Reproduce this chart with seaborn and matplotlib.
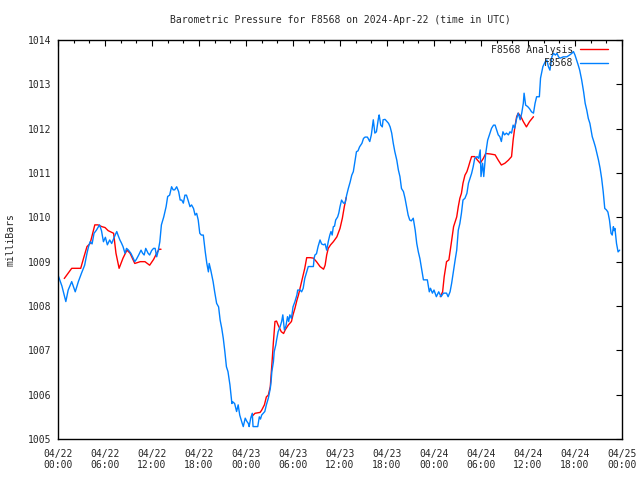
import matplotlib
matplotlib.use("Agg")
import matplotlib.pyplot as plt
from matplotlib.ticker import MultipleLocator
import seaborn as sns
import pandas as pd

title = "Barometric Pressure for F8568 on 2024-Apr-22 (time in UTC)"
ylabel = "milliBars"
tick_hours = [0, 6, 12, 18, 24, 30, 36, 42, 48, 54, 60, 66, 72]
tick_labels = ["04/22\n00:00", "04/22\n06:00", "04/22\n12:00", "04/22\n18:00",
               "04/23\n00:00", "04/23\n06:00", "04/23\n12:00", "04/23\n18:00",
               "04/24\n00:00", "04/24\n06:00", "04/24\n12:00", "04/24\n18:00",
               "04/25\n00:00"]
y_ticks = [1005, 1006, 1007, 1008, 1009, 1010, 1011, 1012, 1013, 1014]

# Observed station pressure (hours since 04/22 00:00 UTC, mb)
obs_hours = [0.0, 0.5, 1.0, 1.3, 1.75, 2.2, 2.6, 3.0, 3.4, 3.7, 3.9, 4.1, 4.35, 4.6, 4.9, 5.3, 5.55, 5.8, 6.05, 6.3,
             6.6, 6.85, 7.2, 7.5, 7.7, 7.9, 8.1, 8.3, 8.55, 8.75, 9.0, 9.3, 9.6, 9.8, 10.0, 10.3, 10.6, 10.8, 11.0, 11.2,
             11.5, 11.7, 11.95, 12.2, 12.4, 12.6, 12.8, 13.0, 13.2, 13.5, 13.8, 14.0, 14.25, 14.5, 14.7, 14.9, 15.15, 15.4, 15.6, 15.8,
             16.0, 16.2, 16.4, 16.6, 16.85, 17.05, 17.3, 17.5, 17.7, 17.9, 18.1, 18.3, 18.55, 18.8, 19.0, 19.2, 19.3, 19.5, 19.8, 20.0,
             20.25, 20.5, 20.7, 20.9, 21.1, 21.3, 21.5, 21.7, 21.95, 22.2, 22.3, 22.55, 22.8, 23.0, 23.2, 23.45, 23.65, 23.9, 24.1, 24.3,
             24.4, 24.6, 24.8, 24.9, 25.5, 25.7, 25.85, 26.0, 26.2, 26.4, 26.6, 26.85, 27.1, 27.2, 27.3, 27.5, 27.6, 27.8, 27.9, 28.1,
             28.35, 28.55, 28.7, 28.9, 29.1, 29.3, 29.45, 29.6, 29.8, 30.0, 30.25, 30.5, 30.6, 30.9, 31.1, 31.3, 31.5, 31.75, 31.95, 32.6,
             32.7, 32.8, 33.0, 33.2, 33.45, 33.65, 33.9, 34.1, 34.3, 34.5, 34.7, 34.85, 35.0, 35.15, 35.3, 35.45, 35.7, 35.85, 36.0, 36.2,
             36.45, 36.65, 36.85, 37.06, 37.3, 37.5, 37.7, 37.9, 38.1, 38.3, 38.5, 38.8, 39.0, 39.2, 39.5, 39.8, 40.0, 40.25, 40.45, 40.65,
             40.9, 41.0, 41.2, 41.4, 41.5, 41.75, 42.0, 42.2, 42.4, 42.6, 42.8, 43.0, 43.25, 43.45, 43.65, 43.85, 44.1, 44.3, 44.5, 44.7,
             44.9, 45.1, 45.35, 45.6, 45.8, 46.0, 46.2, 46.4, 46.65, 47.15, 47.4, 47.55, 47.8, 48.0, 48.3, 48.6, 48.9, 49.2, 49.6, 49.8,
             50.05, 50.25, 50.5, 50.7, 50.9, 51.1, 51.3, 51.5, 51.7, 51.95, 52.2, 52.4, 52.6, 52.8, 53.0, 53.2, 53.5, 53.7, 53.9, 54.0,
             54.2, 54.35, 54.5, 54.6, 54.85, 55.15, 55.35, 55.6, 55.8, 56.0, 56.2, 56.4, 56.6, 56.8, 57.0, 57.25, 57.5, 57.7, 57.9, 58.1,
             58.3, 58.55, 58.75, 59.0, 59.2, 59.4, 59.5, 59.7, 59.95, 60.2, 60.45, 60.7, 60.9, 61.1, 61.45, 61.6, 61.9, 62.2, 62.4, 62.6,
             62.8, 63.05, 63.25, 63.5, 63.7, 63.9, 64.1, 64.5, 64.95, 65.3, 65.6, 65.8, 66.0, 66.2, 66.4, 66.6, 66.85, 67.1, 67.3, 67.5,
             67.7, 67.9, 68.2, 68.4, 68.6, 68.8, 69.0, 69.2, 69.4, 69.6, 69.8, 70.0, 70.2, 70.4, 70.6, 70.75, 70.9, 71.0, 71.1, 71.3,
             71.5, 71.7]
obs_mb = [1008.70, 1008.45, 1008.10, 1008.36, 1008.55, 1008.32, 1008.55, 1008.74, 1008.92, 1009.19, 1009.34, 1009.45, 1009.40, 1009.64, 1009.71, 1009.83, 1009.70, 1009.45, 1009.55, 1009.38,
          1009.49, 1009.41, 1009.56, 1009.68, 1009.58, 1009.49, 1009.42, 1009.34, 1009.19, 1009.30, 1009.26, 1009.19, 1009.08, 1009.00, 1009.05, 1009.15, 1009.26, 1009.19, 1009.15, 1009.30,
          1009.19, 1009.15, 1009.25, 1009.30, 1009.30, 1009.11, 1009.25, 1009.45, 1009.83, 1010.01, 1010.24, 1010.47, 1010.50, 1010.69, 1010.62, 1010.62, 1010.69, 1010.58, 1010.39, 1010.39,
          1010.32, 1010.50, 1010.50, 1010.39, 1010.24, 1010.28, 1010.20, 1010.05, 1010.09, 1009.94, 1009.64, 1009.60, 1009.60, 1009.22, 1008.96, 1008.77, 1008.96, 1008.81, 1008.55, 1008.32,
          1008.06, 1007.98, 1007.68, 1007.50, 1007.27, 1006.97, 1006.63, 1006.52, 1006.22, 1005.80, 1005.84, 1005.80, 1005.62, 1005.77, 1005.54, 1005.39, 1005.28, 1005.47, 1005.40, 1005.35,
          1005.28, 1005.47, 1005.58, 1005.28, 1005.28, 1005.50, 1005.45, 1005.54, 1005.58, 1005.62, 1005.77, 1005.92, 1006.14, 1006.29, 1006.52, 1006.74, 1006.97, 1007.12, 1007.23, 1007.42,
          1007.53, 1007.65, 1007.80, 1007.46, 1007.55, 1007.76, 1007.65, 1007.80, 1007.72, 1007.98, 1008.10, 1008.25, 1008.36, 1008.36, 1008.32, 1008.40, 1008.62, 1008.77, 1008.89, 1008.89,
          1009.08, 1009.15, 1009.18, 1009.34, 1009.49, 1009.40, 1009.38, 1009.40, 1009.26, 1009.45, 1009.60, 1009.68, 1009.60, 1009.79, 1009.80, 1009.94, 1010.01, 1010.10, 1010.24, 1010.39,
          1010.32, 1010.32, 1010.50, 1010.65, 1010.80, 1010.95, 1011.03, 1011.26, 1011.48, 1011.50, 1011.59, 1011.67, 1011.78, 1011.81, 1011.81, 1011.71, 1011.86, 1012.20, 1011.90, 1011.93,
          1012.23, 1012.31, 1012.08, 1012.04, 1012.20, 1012.21, 1012.16, 1012.12, 1012.04, 1011.90, 1011.67, 1011.48, 1011.29, 1011.07, 1010.92, 1010.65, 1010.58, 1010.43, 1010.24, 1010.05,
          1009.94, 1009.92, 1009.98, 1009.71, 1009.41, 1009.22, 1009.07, 1008.85, 1008.59, 1008.59, 1008.32, 1008.40, 1008.29, 1008.36, 1008.21, 1008.32, 1008.21, 1008.29, 1008.29, 1008.21,
          1008.32, 1008.51, 1008.81, 1009.04, 1009.26, 1009.71, 1009.86, 1010.09, 1010.39, 1010.43, 1010.54, 1010.77, 1010.88, 1010.99, 1011.14, 1011.33, 1011.37, 1011.33, 1011.52, 1010.92,
          1011.22, 1010.92, 1011.22, 1011.44, 1011.74, 1011.90, 1012.01, 1012.08, 1012.08, 1011.97, 1011.86, 1011.82, 1011.71, 1011.93, 1011.86, 1011.90, 1011.86, 1011.93, 1011.90, 1012.08,
          1012.01, 1012.23, 1012.35, 1012.20, 1012.35, 1012.57, 1012.80, 1012.53, 1012.50, 1012.45, 1012.38, 1012.35, 1012.57, 1012.72, 1012.72, 1013.14, 1013.40, 1013.51, 1013.55, 1013.40,
          1013.32, 1013.62, 1013.70, 1013.66, 1013.70, 1013.62, 1013.59, 1013.62, 1013.62, 1013.66, 1013.70, 1013.74, 1013.66, 1013.55, 1013.44, 1013.32, 1013.10, 1012.83, 1012.57, 1012.42,
          1012.23, 1012.12, 1011.82, 1011.71, 1011.59, 1011.44, 1011.29, 1011.11, 1010.88, 1010.58, 1010.20, 1010.17, 1010.12, 1009.94, 1009.64, 1009.60, 1009.79, 1009.70, 1009.75, 1009.41,
          1009.22, 1009.26]

# Analysis runs (three separate segments)
ana1_hours = [0.8, 1.75, 2.9, 3.3, 3.7, 4.1, 4.7, 5.1, 5.6, 6.0, 6.4, 7.1, 7.4, 7.8, 8.3, 8.8, 9.2, 9.8, 10.5, 11.1,
              11.7, 12.2, 12.6, 12.9, 13.15]
ana1_mb = [1008.62, 1008.85, 1008.85, 1009.10, 1009.34, 1009.41, 1009.83, 1009.83, 1009.79, 1009.77, 1009.70, 1009.64, 1009.19, 1008.85, 1009.08, 1009.26, 1009.19, 1008.96, 1009.00, 1009.00,
           1008.92, 1009.05, 1009.19, 1009.28, 1009.28]
ana2_hours = [24.7, 25.15, 25.8, 26.0, 26.35, 26.6, 26.85, 27.1, 27.3, 27.5, 27.7, 27.9, 28.1, 28.5, 28.8, 29.0, 29.4, 29.8, 30.0, 30.25,
              30.5, 30.7, 30.9, 31.1, 31.3, 31.5, 31.75, 32.2, 32.6, 33.0, 33.45, 33.9, 34.1, 34.3, 34.5, 34.8, 35.15, 35.6, 36.0, 36.3,
              36.55, 36.8]
ana2_mb = [1005.50, 1005.58, 1005.60, 1005.65, 1005.77, 1005.95, 1005.99, 1006.18, 1006.67, 1007.19, 1007.65, 1007.66, 1007.57, 1007.42, 1007.38, 1007.46, 1007.57, 1007.65, 1007.80, 1007.95,
           1008.13, 1008.25, 1008.40, 1008.55, 1008.70, 1008.85, 1009.09, 1009.09, 1009.08, 1009.00, 1008.89, 1008.83, 1008.92, 1009.15, 1009.30, 1009.38, 1009.45, 1009.56, 1009.75, 1009.98,
           1010.24, 1010.45]
ana3_hours = [48.8, 49.1, 49.3, 49.6, 49.9, 50.2, 50.5, 50.7, 50.9, 51.1, 51.3, 51.5, 51.7, 51.95, 52.2, 52.4, 52.6, 52.8, 53.2, 53.55,
              53.9, 54.3, 54.6, 55.15, 55.8, 56.2, 56.6, 57.05, 57.5, 57.9, 58.1, 58.3, 58.55, 58.75, 59.1, 59.4, 59.8, 60.2, 60.7]
ana3_mb = [1008.21, 1008.32, 1008.66, 1009.00, 1009.04, 1009.41, 1009.79, 1009.90, 1010.01, 1010.24, 1010.43, 1010.54, 1010.77, 1010.95, 1011.03, 1011.14, 1011.26, 1011.37, 1011.37, 1011.29,
           1011.22, 1011.33, 1011.44, 1011.43, 1011.41, 1011.29, 1011.18, 1011.22, 1011.29, 1011.37, 1011.74, 1012.01, 1012.27, 1012.35, 1012.27, 1012.16, 1012.04, 1012.16, 1012.27]

sns.set_style("white")
plt.rcParams["font.family"] = ["DejaVu Sans Mono", "DejaVu Sans"]
FS = 7

fig = plt.figure(figsize=(6.4, 4.8), dpi=100)
ax = fig.add_axes([58 / 640, 1 - 439 / 480, 564 / 640, 399 / 480])

red = "#ff0000"
blue = "#0080ff"
segs = [(ana1_hours, ana1_mb), (ana2_hours, ana2_mb), (ana3_hours, ana3_mb)]
for i, (hh, pp) in enumerate(segs):
    df = pd.DataFrame({"hour": hh, "mb": pp})
    sns.lineplot(data=df, x="hour", y="mb", ax=ax, color=red, linewidth=1.0,
                 estimator=None, sort=False,
                 label="F8568 Analysis" if i == 0 else None)
dfo = pd.DataFrame({"hour": obs_hours, "mb": obs_mb})
sns.lineplot(data=dfo, x="hour", y="mb", ax=ax, color=blue, linewidth=1.0,
             estimator=None, sort=False, label="F8568")

ax.set_xlim(0, 72)
ax.set_ylim(1005, 1014)
ax.set_xticks(tick_hours)
ax.set_xticklabels(tick_labels, fontsize=FS)
ax.xaxis.set_minor_locator(MultipleLocator(2))
ax.set_yticks(y_ticks)
ax.set_yticklabels([str(v) for v in y_ticks], fontsize=FS)
ax.tick_params(axis="both", which="major", direction="in", length=4.5, width=0.8,
               top=True, right=True, color="black")
ax.tick_params(axis="both", which="minor", direction="in", length=2.2, width=0.8,
               top=True, right=True, color="black")
ax.tick_params(axis="x", which="major", pad=7)
ax.tick_params(axis="y", which="major", pad=5)
for s in ax.spines.values():
    s.set_color("black")
    s.set_linewidth(1.0)

ax.set_xlabel("")
ax.set_ylabel(ylabel, fontsize=FS, labelpad=9)
ax.set_title(title, fontsize=FS, pad=12)

leg = ax.legend(loc="upper right", bbox_to_anchor=(1 - 9 / 564, 1), frameon=False,
                fontsize=FS, markerfirst=False,
                handlelength=2.9, handletextpad=0.7, labelspacing=0.35,
                borderaxespad=0.3, borderpad=0.2)
try:
    leg._legend_handle_box.get_children()[0].align = "right"
except Exception:
    pass

fig.savefig("out.png", dpi=100)
